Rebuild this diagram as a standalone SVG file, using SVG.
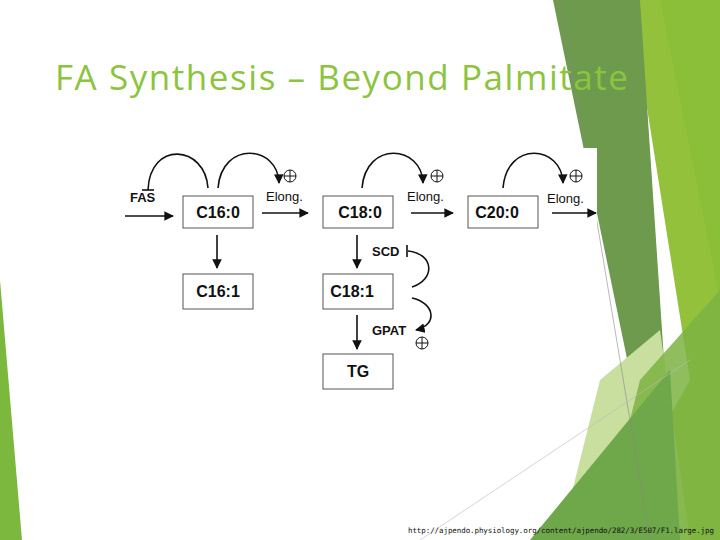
<svg xmlns="http://www.w3.org/2000/svg" width="720" height="540" viewBox="0 0 720 540">
<style>
.box{fill:#fff;stroke:#555;stroke-width:1}
.bl{font-family:"Liberation Sans",Arial,sans-serif;font-weight:bold;font-size:16px;fill:#111;text-anchor:middle}
.lb{font-family:"Liberation Sans",Arial,sans-serif;font-size:13px;fill:#111}
.lbb{font-family:"Liberation Sans",Arial,sans-serif;font-size:13px;font-weight:bold;fill:#111}
.ln{fill:none;stroke:#111;stroke-width:1.6}
</style>
<defs>
<marker id="ah" viewBox="0 0 10 10" refX="9" refY="5" markerWidth="6" markerHeight="6" orient="auto"><path d="M0,0L10,5L0,10z" fill="#111"/></marker>
<symbol id="plus" viewBox="-7 -7 14 14"><circle r="6" fill="none" stroke="#111" stroke-width="1"/><path d="M-6,0H6M0,-6V6" stroke="#111" stroke-width="1"/></symbol>
</defs>
<rect width="720" height="540" fill="#fff"/>
<g id="background">
<polygon points="630,0 720,0 720,540 600,540 690,380" fill="#93c13c"/>
<polygon points="553,0 640,0 668,420 650,470" fill="#6d9a4d"/>
<polygon points="660,0 720,0 720,300" fill="#8bbf3a"/>
<polygon points="600,380 660,330 690,540 560,540" fill="#c9dfa0"/>
<polygon points="640,380 720,290 720,540 600,540" fill="#7cb342" opacity="0.85"/>
<polygon points="530,540 670,370 680,540" fill="#6ea84a"/>
<polygon points="0,280 22,540 0,540" fill="#7db83e"/>
<line x1="560" y1="0" x2="650" y2="540" stroke="#888" stroke-width="0.6"/>
<line x1="420" y1="540" x2="690" y2="360" stroke="#bbb" stroke-width="0.6"/>
</g>
<rect x="118" y="148" width="479" height="244" fill="#fff"/>
<text x="55" y="90" textLength="573" style="font-family:'Open Sans','DejaVu Sans',sans-serif;font-size:35px;fill:#8cc43e">FA Synthesis – Beyond Palmitate</text>
<g id="connectors">
<line class="ln" x1="125" y1="216" x2="173" y2="216" marker-end="url(#ah)"/>
<line class="ln" x1="262" y1="213" x2="308" y2="213" marker-end="url(#ah)"/>
<line class="ln" x1="411" y1="213" x2="453" y2="213" marker-end="url(#ah)"/>
<line class="ln" x1="552" y1="213" x2="596" y2="213" stroke-width="2.2" marker-end="url(#ah)"/>
<line class="ln" x1="217" y1="235" x2="217" y2="268" marker-end="url(#ah)"/>
<line class="ln" x1="357" y1="235" x2="357" y2="268" marker-end="url(#ah)"/>
<line class="ln" x1="357" y1="315" x2="357" y2="349" marker-end="url(#ah)"/>
<path class="ln" d="M208,188 C205,145 150,140 148,190"/>
<line class="ln" x1="142" y1="190" x2="154" y2="190" stroke-width="2.5"/>
<path class="ln" d="M218,188 C222,140 278,145 279,183" marker-end="url(#ah)"/>
<path class="ln" d="M362,188 C366,140 422,145 423,183" marker-end="url(#ah)"/>
<path class="ln" d="M503,188 C507,140 562,145 563,183" marker-end="url(#ah)"/>
<path class="ln" d="M412,287 C435,280 435,254 408,251"/>
<line class="ln" x1="407" y1="245" x2="407" y2="257" stroke-width="2"/>
<path class="ln" d="M412,298 C435,303 438,325 416,330" marker-end="url(#ah)"/>
</g>
<use href="#plus" x="283" y="169" width="14" height="14"/>
<use href="#plus" x="430" y="169" width="14" height="14"/>
<use href="#plus" x="569" y="169" width="14" height="14"/>
<use href="#plus" x="415" y="336" width="14" height="14"/>
<text class="lbb" x="130" y="202">FAS</text>
<text class="lb" x="266" y="201">Elong.</text>
<text class="lb" x="407" y="201">Elong.</text>
<text class="lb" x="547" y="203">Elong.</text>
<text class="lbb" x="372" y="256">SCD</text>
<text class="lbb" x="372" y="335">GPAT</text>
<g id="c160"><rect class="box" x="183" y="196" width="70" height="32"/><text class="bl" x="218" y="218">C16:0</text></g>
<g id="c180"><rect class="box" x="323" y="196" width="70" height="32"/><text class="bl" x="360" y="218">C18:0</text></g>
<g id="c200"><rect class="box" x="468" y="196" width="70" height="32"/><text class="bl" x="497" y="218">C20:0</text></g>
<g id="c161"><rect class="box" x="183" y="274" width="70" height="35"/><text class="bl" x="218" y="297">C16:1</text></g>
<g id="c181"><rect class="box" x="323" y="274" width="70" height="35"/><text class="bl" x="352" y="297">C18:1</text></g>
<g id="tg"><rect class="box" x="323" y="354" width="70" height="35"/><text class="bl" x="358" y="377">TG</text></g>
<text x="408" y="533" style="font-family:'DejaVu Sans Mono',monospace;font-size:7.5px;fill:#111" textLength="306">http://ajpendo.physiology.org/content/ajpendo/282/3/E507/F1.large.jpg</text>
</svg>
